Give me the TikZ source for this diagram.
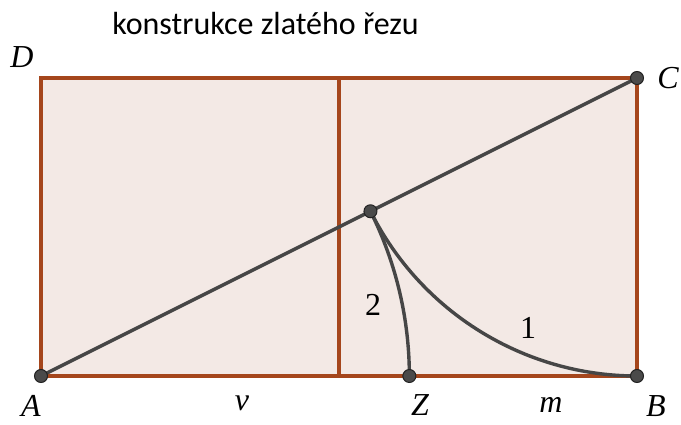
\documentclass[tikz,border=0pt]{standalone}
\usepackage{fontspec}
\setmainfont{Liberation Serif}
\newfontfamily\titlefont{Carlito}
\usetikzlibrary{calc}
\definecolor{rectfill}{HTML}{F3E9E5}
\definecolor{rectedge}{HTML}{A5461C}
\definecolor{ink}{HTML}{464646}
\definecolor{dotfill}{HTML}{4A4A4A}
\definecolor{dotedge}{HTML}{222222}
\tikzset{
  edge/.style={draw=rectedge, line width=3.4pt},
  constr/.style={draw=ink, line width=3.4pt, line cap=round},
  pointdot/.style={circle, fill=dotfill, draw=dotedge, line width=1pt, inner sep=0pt, minimum size=13pt},
  lab/.style={font=\fontsize{32}{32}\selectfont\itshape, inner sep=0pt},
  numlab/.style={font=\fontsize{32}{32}\selectfont, inner sep=0pt}
}
\begin{document}
\begin{tikzpicture}[x=1pt,y=1pt]
\useasboundingbox (0,0) rectangle (681,424);
% corners
\coordinate (A) at (41,48);
\coordinate (B) at (637,48);
\coordinate (C) at (637,346);
\coordinate (D) at (41,346);
\coordinate (M1) at (339,48);
\coordinate (M2) at (339,346);
\coordinate (E) at (370.46,212.73);
\coordinate (Z) at (409.35,48);
% rectangle
\fill[rectfill] (A) rectangle (C);
\draw[edge] (A) -- (B) -- (C) -- (D) -- cycle;
\draw[edge] (M1) -- (M2);
% construction
\draw[constr] (A) -- (C);
\draw[constr] (B) arc[start angle=270, end angle=206.565, radius=298];
\draw[constr] (Z) arc[start angle=0, end angle=26.565, radius=368.35];
% points
\node[pointdot] (pA) at (A) {};
\node[pointdot] (pB) at (B) {};
\node[pointdot] (pC) at (C) {};
\node[pointdot] (pE) at (E) {};
\node[pointdot] (pZ) at (Z) {};
% labels
\node[anchor=base, inner sep=0pt, font=\titlefont\fontsize{32}{32}\selectfont] (title) at (265.5,389) {konstrukce zlatého řezu};
\node[lab] (lD) at (22,367) {D};
\node[lab] (lC) at (668,346) {C};
\node[lab] (lA) at (31,18) {A};
\node[lab] (lv) at (242,21) {v};
\node[lab] (lZ) at (420,19) {Z};
\node[lab] (lm) at (551,19) {m};
\node[lab] (lB) at (656,18) {B};
\node[numlab] (l1) at (528,96) {1};
\node[numlab] (l2) at (373,119) {2};
\end{tikzpicture}
\end{document}
